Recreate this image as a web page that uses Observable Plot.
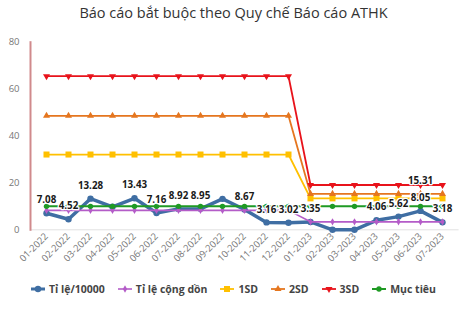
<!DOCTYPE html>
<html><head><meta charset="utf-8">
<script src="https://cdn.jsdelivr.net/npm/d3@7"></script>
<script src="https://cdn.jsdelivr.net/npm/@observablehq/plot@0.6"></script>
<style>
body{margin:0;background:#fff;}
#wrap{position:relative;width:467px;height:311px;overflow:hidden;font-family:"Open Sans",sans-serif;background:#fff;}
#title{position:absolute;left:0;top:3px;width:467px;text-align:center;font-size:14.5px;color:#333;}
#chart{position:absolute;left:0;top:0;}
#legend{position:absolute;left:0;top:282px;width:467px;display:flex;justify-content:center;gap:13px;font-size:10.5px;font-weight:bold;color:#444;}
.item{display:flex;align-items:center;gap:4px;white-space:nowrap;}
</style></head><body>
<div id="wrap">
<div id="chart"></div>
<div id="title">Báo cáo bắt buộc theo Quy chế Báo cáo ATHK</div>
<div id="legend"></div>
</div>
<script>
const months = ["01-2022","02-2022","03-2022","04-2022","05-2022","06-2022","07-2022","08-2022","09-2022","10-2022","11-2022","12-2022","01-2023","02-2023","03-2023","04-2023","05-2023","06-2023","07-2023"];
const tiLe = [7.08,4.52,13.28,9.8,13.43,7.16,8.92,8.95,13.2,8.67,3.16,3.02,3.35,0,0,4.06,5.62,8.05,3.18];
const tiLeLabels = ["7.08","4.52","13.28",null,"13.43","7.16","8.92","8.95",null,"8.67","3.16","3.02","3.35",null,null,"4.06","5.62","8.05","3.18"];
const congDon = [8.3,8.3,8.3,8.3,8.3,8.3,8.3,8.3,8.3,8.3,8.3,8.3,3.4,3.4,3.4,3.4,3.4,3.4,3.4];
const sd1 = [32.1,32.1,32.1,32.1,32.1,32.1,32.1,32.1,32.1,32.1,32.1,32.1,13.4,13.4,13.4,13.4,13.4,13.4,13.4];
const sd2 = [48.6,48.6,48.6,48.6,48.6,48.6,48.6,48.6,48.6,48.6,48.6,48.6,15.31,15.31,15.31,15.31,15.31,15.31,15.31];
const sd2Labels = [null,null,null,null,null,null,null,null,null,null,null,null,null,null,null,null,null,"15.31",null];
const sd3 = [65.5,65.5,65.5,65.5,65.5,65.5,65.5,65.5,65.5,65.5,65.5,65.5,19.1,19.1,19.1,19.1,19.1,19.1,19.1];
const mucTieu = [10,10,10,10,10,10,10,10,10,10,10,10,10,10,10,10,10,10,10];
const yTicks = [0,20,40,60,80];

const triangleDown = {draw(ctx, size){
  const y = Math.sqrt(size/(3*Math.sqrt(3)));
  ctx.moveTo(0, 2*y); ctx.lineTo(-Math.sqrt(3)*y, -y); ctx.lineTo(Math.sqrt(3)*y, -y); ctx.closePath();
}};

const series = [
  {name:"Tỉ lệ/10000", values:tiLe, color:"#3f6ea3", sw:3.5, symbol:"circle", r:3.2},
  {name:"Tỉ lệ cộng dồn", values:congDon, color:"#b45cc8", sw:1.6, symbol:"diamond", r:2.2},
  {name:"1SD", values:sd1, color:"#ffc000", sw:1.8, symbol:"square", r:3.4},
  {name:"2SD", values:sd2, color:"#e5761f", sw:1.8, symbol:"triangle", r:2.6},
  {name:"3SD", values:sd3, color:"#e8131b", sw:1.8, symbol:triangleDown, r:2.6},
  {name:"Mục tiêu", values:mucTieu, color:"#1f9a24", sw:2, symbol:"circle", r:2.7}
];

const marks = [
  Plot.ruleY([0], {stroke:"#e2e2e2", strokeWidth:1}),
  Plot.frame({anchor:"left", stroke:"#d08a8c", strokeWidth:2}),
  Plot.axisY({ticks:yTicks, tickSize:0, tickPadding:11, fontSize:9.5, label:null}),
  Plot.axisX({tickRotate:-45, tickSize:0, tickPadding:5, fontSize:9.5, label:null})
];
for (const s of series) {
  marks.push(Plot.line(months, {x:d=>d, y:(d,i)=>s.values[i], stroke:s.color, strokeWidth:s.sw}));
  marks.push(Plot.dot(months, {x:d=>d, y:(d,i)=>s.values[i], fill:s.color, symbol:s.symbol, r:s.r, stroke:"none"}));
}
const labelOpts = {fontWeight:"bold", fontSize:9.8, fill:"#1a1a1a", stroke:"white", strokeWidth:2.5, dy:-13};
marks.push(Plot.text(months, {...labelOpts, filter:(d,i)=>tiLeLabels[i]!=null, x:d=>d, y:(d,i)=>tiLe[i], text:(d,i)=>tiLeLabels[i]}));
marks.push(Plot.text(months, {...labelOpts, filter:(d,i)=>sd2Labels[i]!=null, x:d=>d, y:(d,i)=>sd2[i], text:(d,i)=>sd2Labels[i]}));

const chart = Plot.plot({
  width:467, height:280,
  marginTop:41.7, marginBottom:50.7, marginLeft:30, marginRight:8.4,
  x:{type:"point", domain:months, padding:0.5},
  y:{domain:[0,80]},
  style:{fontFamily:"'Open Sans', sans-serif", color:"#777", background:"transparent"},
  marks
});
document.getElementById("chart").appendChild(chart);

const legend = document.getElementById("legend");
for (const s of series) {
  const item = document.createElement("div"); item.className = "item";
  const svg = d3.create("svg").attr("width",14).attr("height",10);
  svg.append("line").attr("x1",0).attr("x2",14).attr("y1",5).attr("y2",5).attr("stroke",s.color).attr("stroke-width",Math.min(s.sw,3));
  const sym = typeof s.symbol === "string" ? {circle:d3.symbolCircle,diamond:d3.symbolDiamond,square:d3.symbolSquare,triangle:d3.symbolTriangle}[s.symbol] : s.symbol;
  svg.append("path").attr("transform","translate(7,5)").attr("d", d3.symbol(sym, Math.PI*s.r*s.r)()).attr("fill",s.color);
  item.appendChild(svg.node());
  const t = document.createElement("span"); t.textContent = s.name; item.appendChild(t);
  legend.appendChild(item);
}
</script>
</body></html>
